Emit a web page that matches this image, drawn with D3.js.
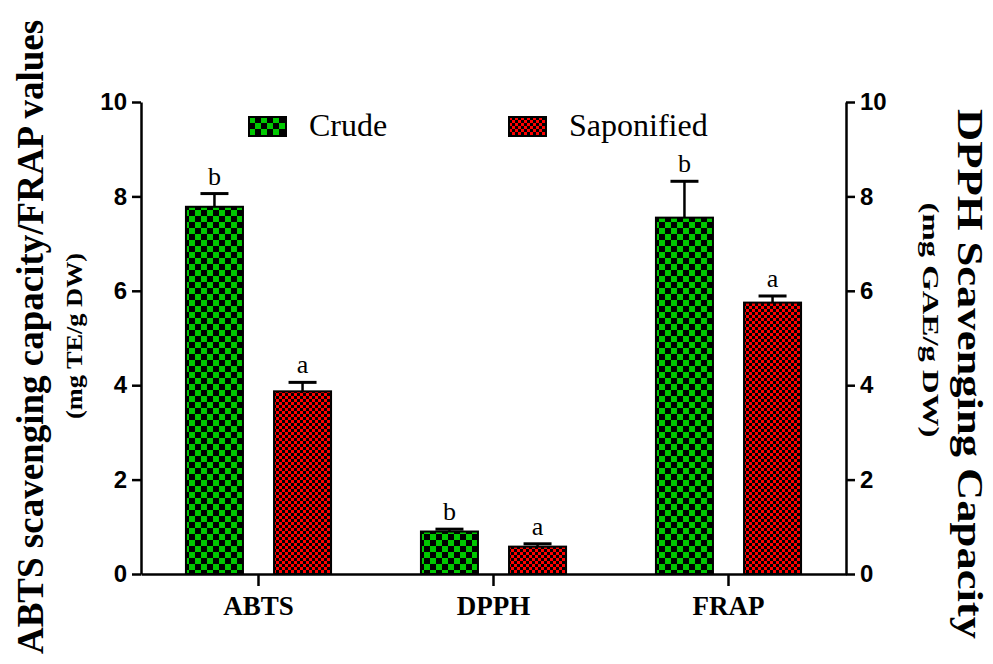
<!DOCTYPE html>
<html>
<head>
<meta charset="utf-8">
<script src="https://cdn.jsdelivr.net/npm/d3@7/dist/d3.min.js"></script>
<style>
  html, body { margin: 0; padding: 0; background: #fff; }
  svg { display: block; }
</style>
</head>
<body>
<svg id="chart" width="993" height="664"></svg>
<script>
// ---- data ----
const categories = ["ABTS", "DPPH", "FRAP"];
const seriesNames = ["Crude", "Saponified"];
const crudeValues = [7.78, 0.90, 7.55];
const crudeErrors = [0.28, 0.05, 0.77];
const saponifiedValues = [3.87, 0.58, 5.75];
const saponifiedErrors = [0.19, 0.06, 0.14];
const crudeLetters = ["b", "b", "b"];
const saponifiedLetters = ["a", "a", "a"];
const yTicks = [0, 2, 4, 6, 8, 10];

const svg = d3.select("#chart");
const serif = "'Liberation Serif', 'Times New Roman', serif";
const sans = "'Liberation Sans', Arial, sans-serif";

// patterns
const defs = svg.append("defs");
const pg = defs.append("pattern").attr("id", "pGreen").attr("patternUnits", "userSpaceOnUse")
  .attr("width", 12).attr("height", 12);
pg.append("rect").attr("width", 12).attr("height", 12).attr("fill", "#000");
pg.append("rect").attr("x", 0).attr("y", 0).attr("width", 6).attr("height", 6).attr("fill", "#00c800");
pg.append("rect").attr("x", 6).attr("y", 6).attr("width", 6).attr("height", 6).attr("fill", "#00c800");
const pr = defs.append("pattern").attr("id", "pRed").attr("patternUnits", "userSpaceOnUse")
  .attr("width", 6).attr("height", 6);
pr.append("rect").attr("width", 6).attr("height", 6).attr("fill", "#000");
pr.append("rect").attr("x", 0).attr("y", 0).attr("width", 3).attr("height", 3).attr("fill", "#ff0000");
pr.append("rect").attr("x", 3).attr("y", 3).attr("width", 3).attr("height", 3).attr("fill", "#ff0000");
const fills = { "Crude": "url(#pGreen)", "Saponified": "url(#pRed)" };

// scales
const plotLeft = 141, plotRight = 846, plotTop = 102, plotBottom = 574;
const x0 = d3.scaleBand().domain(categories).range([plotLeft, plotRight]).padding(0);
const x1 = d3.scaleBand().domain(seriesNames)
  .range([x0.bandwidth() * 0.187, x0.bandwidth() * 0.813]).paddingInner(0.33).paddingOuter(0);
const y = d3.scaleLinear().domain([0, 10]).range([plotBottom, plotTop]);
const yRight = d3.scaleLinear().domain([0, 10]).range([plotBottom, plotTop]);

const rows = categories.map((c, i) => ({
  cat: c,
  bars: [
    { s: "Crude", v: crudeValues[i], e: crudeErrors[i], l: crudeLetters[i] },
    { s: "Saponified", v: saponifiedValues[i], e: saponifiedErrors[i], l: saponifiedLetters[i] }
  ]
}));

// bars
const groups = svg.append("g").selectAll("g").data(rows).join("g")
  .attr("transform", d => `translate(${x0(d.cat)},0)`);
const bars = groups.selectAll("g.bar").data(d => d.bars).join("g").attr("class", "bar");
bars.append("line")
  .attr("x1", d => x1(d.s) + x1.bandwidth() / 2).attr("x2", d => x1(d.s) + x1.bandwidth() / 2)
  .attr("y1", d => y(d.v)).attr("y2", d => y(d.v + d.e))
  .attr("stroke", "#000").attr("stroke-width", 2.5);
bars.append("line")
  .attr("x1", d => x1(d.s) + x1.bandwidth() / 2 - 14).attr("x2", d => x1(d.s) + x1.bandwidth() / 2 + 14)
  .attr("y1", d => y(d.v + d.e)).attr("y2", d => y(d.v + d.e))
  .attr("stroke", "#000").attr("stroke-width", 3);
bars.append("rect")
  .attr("x", d => x1(d.s) + 1).attr("width", x1.bandwidth() - 2)
  .attr("y", d => y(d.v)).attr("height", d => y(0) - y(d.v))
  .attr("fill", d => fills[d.s]).attr("stroke", "#000").attr("stroke-width", 2);
bars.append("text")
  .attr("x", d => x1(d.s) + x1.bandwidth() / 2)
  .attr("y", d => y(d.v + d.e) - 9)
  .attr("text-anchor", "middle").attr("font-family", serif).attr("font-size", 26)
  .text(d => d.l);

// axes
function styleAxis(g) {
  g.selectAll(".domain").attr("stroke", "#000").attr("stroke-width", 2.5);
  g.selectAll(".tick line").attr("stroke", "#000").attr("stroke-width", 2.5);
}
const yAxisL = svg.append("g").attr("transform", `translate(${plotLeft},0)`)
  .call(d3.axisLeft(y).tickValues(yTicks).tickSize(9).tickSizeOuter(0).tickPadding(5));
styleAxis(yAxisL);
yAxisL.selectAll("text").attr("font-family", sans).attr("font-weight", "bold").attr("font-size", 24).attr("fill", "#000");

const yAxisR = svg.append("g").attr("transform", `translate(${plotRight},0)`)
  .call(d3.axisRight(yRight).tickValues(yTicks).tickSize(9).tickSizeOuter(0).tickPadding(5));
styleAxis(yAxisR);
yAxisR.selectAll("text").attr("font-family", sans).attr("font-weight", "bold").attr("font-size", 24).attr("fill", "#000");

const xAxis = svg.append("g").attr("transform", `translate(0,${plotBottom})`)
  .call(d3.axisBottom(x0).tickSize(12).tickSizeOuter(0).tickPadding(10));
styleAxis(xAxis);
xAxis.selectAll("text").attr("font-family", serif).attr("font-weight", "bold").attr("font-size", 27).attr("fill", "#000");

// axis titles
svg.append("text").attr("transform", "translate(43,337) rotate(-90)")
  .attr("text-anchor", "middle").attr("font-family", serif).attr("font-weight", "bold").attr("font-size", 37)
  .text("ABTS scavenging capacity/FRAP values");
svg.append("text").attr("transform", "translate(82,336) rotate(-90)")
  .attr("text-anchor", "middle").attr("font-family", serif).attr("font-weight", "bold").attr("font-size", 24)
  .attr("textLength", 166).attr("lengthAdjust", "spacingAndGlyphs")
  .text("(mg TE/g DW)");
svg.append("text").attr("transform", "translate(958,374) rotate(90)")
  .attr("text-anchor", "middle").attr("font-family", serif).attr("font-weight", "bold").attr("font-size", 36)
  .attr("textLength", 530).attr("lengthAdjust", "spacingAndGlyphs")
  .text("DPPH Scavenging Capacity");
svg.append("text").attr("transform", "translate(923,320) rotate(90)")
  .attr("text-anchor", "middle").attr("font-family", serif).attr("font-weight", "bold").attr("font-size", 24)
  .attr("textLength", 235).attr("lengthAdjust", "spacingAndGlyphs")
  .text("(mg GAE/g DW)");

// legend
const legendX = [249, 509];
const leg = svg.append("g").selectAll("g").data(seriesNames).join("g")
  .attr("transform", (d, i) => `translate(${legendX[i]},117)`);
leg.append("rect").attr("width", 37).attr("height", 19)
  .attr("fill", d => fills[d]).attr("stroke", "#000").attr("stroke-width", 2);
leg.append("text").attr("x", 60).attr("y", 19)
  .attr("font-family", serif).attr("font-size", 32).text(d => d);
</script>
</body>
</html>
